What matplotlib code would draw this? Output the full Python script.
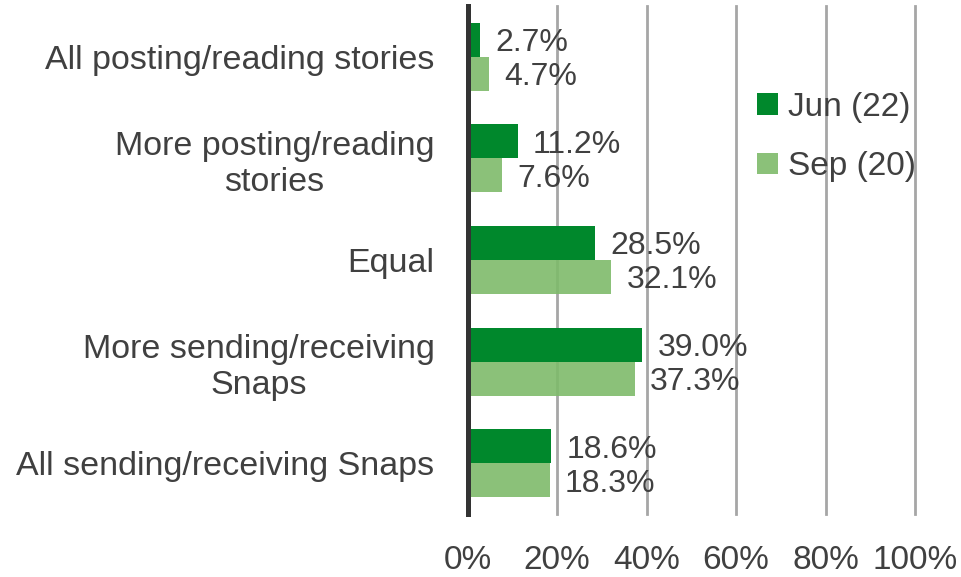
import matplotlib
matplotlib.use("Agg")
import matplotlib.pyplot as plt
import numpy as np

categories = [
    "All posting/reading stories",
    "More posting/reading\nstories",
    "Equal",
    "More sending/receiving\nSnaps",
    "All sending/receiving Snaps",
]
jun_values = [2.7, 11.2, 28.5, 39.0, 18.6]
sep_values = [4.7, 7.6, 32.1, 37.3, 18.3]
series_names = ["Jun (22)", "Sep (20)"]
x_ticks = [0, 20, 40, 60, 80, 100]

plt.rcParams["font.family"] = ["Liberation Sans", "DejaVu Sans"]
text_color = "#404040"
dark_green = "#00882C"
light_green = "#7EBB6B"

fig = plt.figure(figsize=(9.62, 5.77), dpi=100)
ax = fig.add_axes([0.4862, 0.1092, 0.4650, 0.8804])

y = np.arange(len(categories))
h = 0.335
b1 = ax.barh(y - h / 2, jun_values, height=h, color=dark_green, zorder=3,
             label=series_names[0])
b2 = ax.barh(y + h / 2, sep_values, height=h, color=light_green, alpha=0.9,
             zorder=3, label=series_names[1])

for bars, vals in ((b1, jun_values), (b2, sep_values)):
    for rect, v in zip(bars, vals):
        ax.annotate(f"{v:.1f}%", xy=(v, rect.get_y() + rect.get_height() / 2),
                    xytext=(11, -2.5), textcoords="offset points",
                    ha="left", va="center", fontsize=23, color=text_color,
                    zorder=4)

ax.set_xlim(0, 100)
ax.set_ylim(len(categories) - 0.5, -0.5)
ax.set_xticks(x_ticks)
ax.set_xticklabels([f"{t}%" for t in x_ticks], fontsize=24, color=text_color)
ax.set_yticks(y)
ax.set_yticklabels(categories, fontsize=24.5, color=text_color,
                   multialignment="center")
ax.tick_params(axis="both", length=0)
ax.tick_params(axis="x", pad=22)
ax.tick_params(axis="y", pad=24)

ax.xaxis.grid(True, color="#A6A6A6", linewidth=2, zorder=1)
for gl in ax.get_xgridlines():
    gl.set_clip_on(False)
ax.set_axisbelow(True)
for side in ("top", "right", "bottom"):
    ax.spines[side].set_visible(False)
ax.spines["left"].set_color("#333333")
ax.spines["left"].set_linewidth(3.6)
ax.spines["left"].set_zorder(5)

leg = ax.legend(loc="upper left", bbox_to_anchor=(0.617, 0.857), frameon=False,
                fontsize=24, labelcolor=text_color, handlelength=0.62,
                handleheight=0.62, handletextpad=0.3, labelspacing=0.85,
                borderaxespad=0)

fig.savefig("out.png", dpi=100)
